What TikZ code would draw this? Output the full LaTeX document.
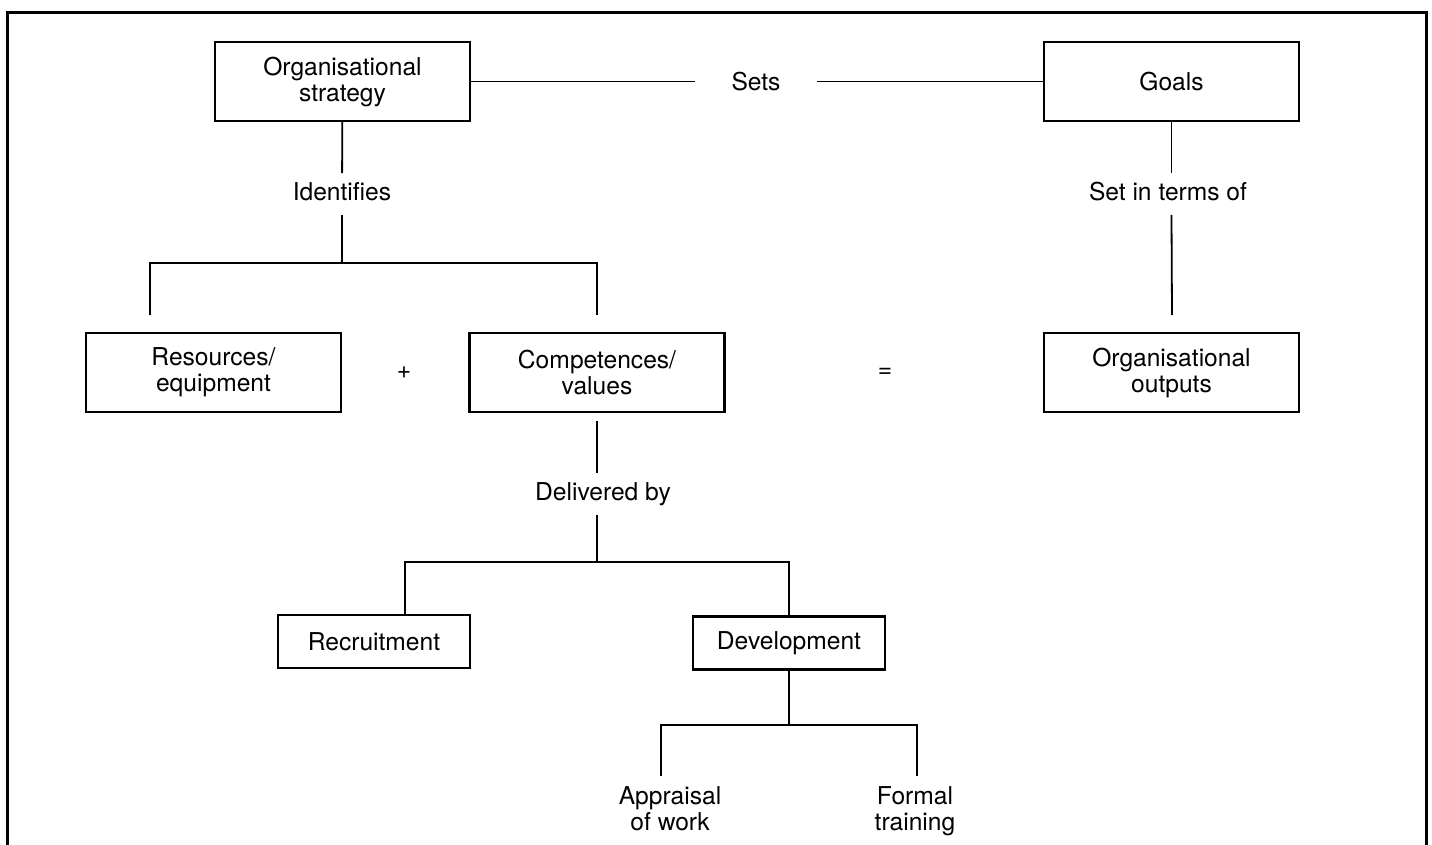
\documentclass[tikz,border=0pt]{standalone}
\usepackage{fontspec}
\setmainfont{TeX Gyre Heros}
\usepackage{tikz}

\begin{document}
\begin{tikzpicture}[x=0.5pt,y=-0.5pt,line width=0.9pt,
  every node/.style={font=\fontsize{12.3pt}{13pt}\selectfont},
  main box/.style={draw,line width=1.1pt,minimum width=127.5pt,minimum height=39.5pt,align=center,inner sep=2pt},
  small box/.style={main box,minimum width=96pt,minimum height=26.5pt},
  link label/.style={text height=9pt,text depth=2.5pt,inner ysep=4.25pt,inner xsep=18pt},
  leaf/.style={align=center,inner sep=0pt,anchor=north}]

  \useasboundingbox (0,0) rectangle (1432,845);
  \draw[line width=1.5pt] (7,845) -- (7,13) -- (1426,13) -- (1426,845);

  % top row
  \node[main box] (strat) at (342.5,81.5) {Organisational\\strategy};
  \node[main box] (goals) at (1171.5,81.5) {Goals};
  \node[link label] (sets) at (756,84) {Sets};
  \node[link label] (ident) at (342,194) {Identifies};
  \node[link label] (setin) at (1168,194) {Set in terms of};

  % middle row
  \node[main box] (res) at (213.5,372.5) {Resources/\\equipment};
  \node (plus) at (404,373) {+};
  \node[main box] (comp) at (597,372.5) {Competences/\\values};
  \node (eq) at (885,373) {=};
  \node[main box] (outp) at (1171.5,372.5) {Organisational\\outputs};

  % delivery
  \node[link label] (deliv) at (603,494) {Delivered by};
  \node[small box] (recr) at (374,641.5) {Recruitment};
  \node[small box] (dev) at (789,643) {Development};
  \node[leaf] (appr) at (670,786) {Appraisal\\of work};
  \node[leaf] (form) at (915,786) {Formal\\training};

  \coordinate (j1) at (342,263);
  \coordinate (resTop) at (150,315);
  \coordinate (compTop) at (597,315);
  \coordinate (outTop) at (1172,315);
  \coordinate (j2) at (597,562);
  \coordinate (recTop) at (405,615);
  \coordinate (j3) at (789,725);
  \coordinate (apprTop) at (661,776);
  \coordinate (formTop) at (917,776);

  \path (strat) edge (sets.west |- strat)
        (sets.east |- goals) edge (goals)
        (strat) edge (ident)
        (ident) edge (j1)
        (goals.south) edge (goals.south |- setin.north)
        (goals.south |- setin.south) edge (outTop);
  \draw (resTop) |- (j1) -| (compTop);

  \draw[shorten <=4pt] (comp.south) -- (comp.south |- deliv.north);
  \draw (comp.south |- deliv.south) -- (j2);
  \draw (recTop) |- (j2) -| (dev.north);

  \draw (dev.south) -- (j3);
  \draw (apprTop) |- (j3) -| (formTop);
\end{tikzpicture}
\end{document}
